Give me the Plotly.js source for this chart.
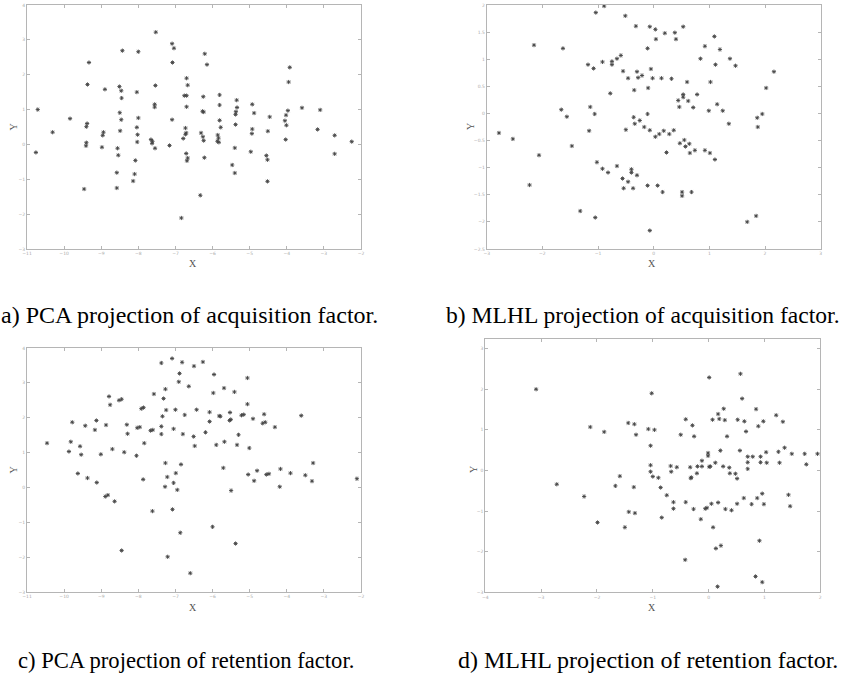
<!DOCTYPE html>
<html>
<head>
<meta charset="utf-8">
<script src="https://cdn.plot.ly/plotly-3.0.1.min.js"></script>
<style>html,body{margin:0;padding:0;background:#fff;}#chart{width:844px;height:673px;}</style>
</head>
<body>
<div id="chart"></div>
<script>
// ---- panel a: PCA projection of acquisition factor ----
const aX = [-10.71,-7.53,-7.09,-7.04,-8.43,-8.00,-6.21,-9.33,-7.08,-6.15,-3.92,-6.70,-3.95,-9.37,-6.67,-7.54,-8.90,-8.51,-8.46,-8.04,-8.45,-6.76,-6.70,-6.25,-5.81,-5.35,-7.56,-7.56,-6.70,-5.81,-4.93,-5.34,-3.59,-3.10,-3.97,-6.27,-6.24,-5.37,-8.50,-4.88,-5.38,-4.02,-4.46,-8.00,-9.84,-7.09,-8.46,-5.81,-4.05,-9.38,-5.38,-4.01,-9.40,-8.04,-6.73,-5.78,-4.93,-3.17,
  -10.31,-8.94,-8.96,-8.49,-8.02,-8.03,-7.66,-7.62,-7.63,-7.55,-9.40,-9.41,-8.98,-8.56,-8.54,-10.76,-7.16,-6.71,-6.73,-6.79,-6.71,-6.67,-6.69,-6.31,-6.26,-6.24,-6.22,-5.86,-5.84,-5.87,-5.83,-5.40,-5.47,-5.40,-4.97,-4.94,-4.55,-4.52,-4.52,-4.51,-4.03,-2.71,-2.71,-2.25,-8.58,-8.58,-9.46,-8.08,-8.10,-8.14,-6.33,-6.84];
const aY = [1.00,3.22,2.89,2.76,2.69,2.66,2.60,2.35,2.35,2.29,2.21,1.90,1.79,1.72,1.70,1.69,1.58,1.66,1.54,1.50,1.33,1.40,1.40,1.37,1.42,1.27,1.15,1.07,1.08,1.13,1.15,1.06,1.05,0.99,0.97,0.95,0.93,0.94,0.91,0.90,0.86,0.84,0.79,0.76,0.74,0.71,0.71,0.69,0.68,0.60,0.57,0.55,0.51,0.49,0.47,0.49,0.44,0.43,
  0.35,0.35,0.26,0.39,0.28,0.07,0.14,0.09,0.03,-0.11,0.05,-0.04,-0.08,-0.11,-0.31,-0.23,-0.03,0.33,0.29,0.17,-0.26,-0.39,-0.47,0.33,0.22,0.11,-0.38,0.27,0.18,0.09,0.06,-0.10,-0.59,-0.82,-0.21,0.31,-0.32,-0.44,-1.06,0.38,0.14,0.26,-0.27,0.08,-0.81,-1.25,-1.28,-0.46,-0.85,-1.05,-1.46,-2.11];

// ---- panel b: MLHL projection of acquisition factor ----
const bX = [-0.89,-1.04,-0.51,-0.32,-0.07,0.03,0.53,0.20,0.38,0.04,0.40,1.09,-2.15,-1.63,-0.11,0.92,1.19,-0.59,-0.66,-0.75,-0.75,-0.92,-1.18,-1.08,0.84,1.37,1.11,1.47,-0.55,-0.30,-0.05,-0.21,-0.46,-0.28,-0.02,0.14,0.32,0.60,1.02,2.16,2.02,-0.35,-0.10,-0.78,0.53,0.53,0.78,0.44,0.62,0.46,0.71,1.14,0.99,1.24,-1.66,-1.14,-1.56,-1.06,-0.11,-0.36,-0.25,-0.34,1.35,1.95,1.86,1.87,-2.78,-2.53,-1.16,-0.50,-0.17,-0.07,0.18,0.10,0.03,0.28,0.36,0.47,0.55,0.57,0.64,0.65,0.74,0.92,1.01,1.10,0.23,-1.47,-2.06,-1.02,-0.92,-0.82,-0.66,-0.40,-0.40,-0.30,-0.56,-0.46,-0.54,-0.37,-0.11,0.07,0.16,0.51,0.51,0.68,-2.23,-1.32,-1.05,-0.07,1.68,1.84];
const bY = [1.98,1.86,1.80,1.61,1.60,1.55,1.60,1.48,1.49,1.37,1.37,1.42,1.26,1.20,1.20,1.24,1.18,1.07,1.01,0.96,0.90,0.95,0.90,0.83,1.01,1.01,0.90,0.88,0.78,0.77,0.82,0.70,0.65,0.66,0.65,0.65,0.64,0.58,0.58,0.77,0.47,0.43,0.47,0.37,0.35,0.30,0.35,0.24,0.23,0.12,0.11,0.17,0.05,0.05,0.07,0.12,-0.06,-0.01,-0.01,-0.07,-0.13,-0.19,-0.19,-0.01,-0.08,-0.25,-0.36,-0.47,-0.32,-0.30,-0.25,-0.31,-0.32,-0.38,-0.43,-0.38,-0.31,-0.55,-0.49,-0.61,-0.56,-0.73,-0.68,-0.68,-0.73,-0.85,-0.72,-0.60,-0.77,-0.90,-1.02,-1.09,-0.97,-1.03,-1.09,-1.14,-1.20,-1.26,-1.38,-1.38,-1.33,-1.33,-1.45,-1.45,-1.52,-1.45,-1.32,-1.80,-1.92,-2.16,-2.00,-1.89];

// ---- panel c: PCA projection of retention factor ----
const cX = [-7.09,-7.38,-6.82,-6.26,-6.50,-6.89,-5.96,-5.06,-6.91,-7.27,-6.64,-5.69,-5.41,-5.98,-7.58,-7.32,-8.79,-8.76,-8.52,-8.45,-7.92,-7.86,-5.06,-7.25,-7.00,-6.43,-6.08,-6.75,-7.35,-5.82,-5.79,-5.53,-5.22,-5.16,-4.61,-3.61,-6.08,-5.54,-5.51,-4.91,-4.65,-4.58,-4.32,-9.78,-9.43,-9.13,-9.17,-8.87,-8.31,-8.29,-8.03,-7.96,-7.67,-7.61,-7.38,-7.38,-7.05,-6.80,-6.51,-6.19,-5.30,
  -10.46,-9.82,-9.87,-9.57,-9.54,-9.01,-8.70,-8.38,-8.05,-7.84,-6.48,-5.90,-5.68,-5.34,-5.01,-7.27,-6.85,-9.63,-9.37,-9.12,-6.99,-7.22,-7.05,-7.28,-6.95,-7.87,-5.71,-5.04,-4.80,-4.88,-4.55,-4.48,-4.17,-3.90,-4.19,-3.50,-3.29,-3.32,-2.11,-5.50,-8.89,-8.82,-8.64,-7.62,-7.08,-6.87,-6.00,-5.38,-8.45,-7.21,-6.60];
const cY = [3.70,3.57,3.59,3.60,3.48,3.27,3.24,3.14,3.03,2.82,2.90,2.85,2.74,2.71,2.68,2.55,2.61,2.37,2.50,2.53,2.26,2.29,2.39,2.22,2.23,2.23,2.16,2.08,2.04,2.05,2.04,2.15,2.07,2.09,2.10,2.06,1.89,1.92,1.95,1.97,1.84,1.87,1.73,1.87,1.77,1.92,1.65,1.79,1.80,1.54,1.71,1.73,1.63,1.65,1.75,1.53,1.68,1.53,1.46,1.58,1.51,
  1.27,1.31,1.03,1.18,0.94,0.95,1.10,1.01,0.91,1.27,1.19,1.22,1.31,1.22,1.13,0.70,0.66,0.40,0.27,0.14,0.41,0.30,0.13,0.02,-0.07,0.23,0.56,0.37,0.48,0.19,0.37,0.39,0.53,0.41,0.02,0.35,0.70,0.18,0.25,-0.09,-0.26,-0.22,-0.40,-0.68,-0.63,-1.30,-1.13,-1.61,-1.81,-1.99,-2.46];

// ---- panel d: MLHL projection of retention factor ----
const dX = [-3.09,0.01,0.57,-1.02,0.60,0.27,0.85,0.17,-0.41,0.07,0.19,0.29,0.52,0.64,1.21,1.33,0.98,-0.29,0.89,-2.12,-1.87,-1.44,-1.33,-1.30,-1.08,-0.97,-0.50,-0.26,0.33,0.67,
  -1.04,0.21,0.56,-0.01,-0.01,0.70,0.79,0.93,1.03,1.25,1.36,1.49,1.72,1.95,0.70,0.93,1.04,1.27,1.75,0.70,-0.12,0.12,0.26,-1.04,-1.04,-1.00,-0.68,-0.67,-0.57,-0.33,-0.20,-0.12,0.01,0.03,0.37,-0.21,0.38,0.48,0.51,-0.31,-0.32,-0.90,-1.59,-1.67,-1.34,-0.86,-0.75,-2.72,-2.23,-0.63,-0.41,-0.63,-0.27,-0.06,-0.03,0.05,0.17,0.30,0.41,0.51,0.63,0.77,0.87,0.96,0.99,1.43,1.46,-1.43,-1.32,-0.84,-0.14,0.08,-1.99,-1.50,0.91,0.22,0.13,-0.42,0.84,0.96,0.16];
const dY = [2.00,2.29,2.38,1.90,1.77,1.52,1.51,1.39,1.26,1.25,1.27,1.24,1.25,1.21,1.36,1.20,1.21,1.11,1.09,1.07,0.95,1.17,1.14,0.88,1.02,1.00,0.88,0.84,0.84,0.96,
  0.61,0.49,0.49,0.43,0.36,0.34,0.34,0.34,0.45,0.46,0.56,0.41,0.41,0.41,0.20,0.20,0.19,0.19,0.15,0.04,0.24,0.19,0.10,0.13,-0.03,-0.15,0.11,-0.03,0.08,0.08,0.10,0.10,0.09,0.10,0.07,-0.07,-0.07,-0.08,-0.20,-0.17,-0.19,-0.18,-0.14,-0.38,-0.41,-0.42,-0.61,-0.34,-0.64,-0.78,-0.78,-0.94,-0.95,-0.94,-0.92,-0.82,-0.79,-0.95,-0.98,-0.82,-0.68,-0.83,-0.68,-0.57,-0.83,-0.60,-0.88,-1.02,-1.05,-1.16,-1.20,-1.40,-1.28,-1.40,-1.73,-1.85,-1.92,-2.20,-2.61,-2.75,-2.86];

// ---- tick values ----
const pcaXTicks = [-11,-10,-9,-8,-7,-6,-5,-4,-3,-2];
const pcaYTicks = [-3,-2,-1,0,1,2,3,4];
const bXTicks = [-3,-2,-1,0,1,2,3];
const bYTicks = [-2.5,-2,-1.5,-1,-0.5,0,0.5,1,1.5,2];
const dXTicks = [-4,-3,-2,-1,0,1,2];
const dYTicks = [-3,-2,-1,0,1,2,3];

const captions = [
  "a) PCA projection of acquisition factor.",
  "b) MLHL projection of acquisition factor.",
  "c) PCA projection of retention factor.",
  "d) MLHL projection of retention factor."
];
const axisX = "X", axisY = "Y";

const W = 844, H = 673;
const px = v => v / W;
const py = v => 1 - v / H;

const marker = {symbol: 'asterisk-open', size: 3.5, line: {color: '#444', width: 0.9}, color: '#444'};
function tr(x, y, xa, ya) {
  return {x: x, y: y, xaxis: xa, yaxis: ya, type: 'scatter', mode: 'markers',
          marker: marker, hoverinfo: 'none', showlegend: false};
}

function ax(domain, range, ticks, anchor) {
  return {
    domain: domain, range: range, anchor: anchor,
    tickmode: 'array', tickvals: ticks,
    ticks: 'inside', ticklen: 3, tickcolor: '#b5b5b5', tickwidth: 1,
    showline: true, linecolor: '#b5b5b5', linewidth: 1, mirror: 'ticks',
    showgrid: false, zeroline: false,
    tickfont: {family: 'DejaVu Sans', size: 4.5, color: '#aaa'},
    fixedrange: true
  };
}

const data = [
  tr(aX, aY, 'x', 'y'),
  tr(bX, bY, 'x2', 'y2'),
  tr(cX, cY, 'x3', 'y3'),
  tr(dX, dY, 'x4', 'y4')
];

function label(text, x, y, angle) {
  return {text: text, x: px(x), y: py(y), xref: 'paper', yref: 'paper', xanchor: 'center', yanchor: 'middle',
          showarrow: false, textangle: angle, font: {family: 'Liberation Serif', size: 10, color: '#555'}};
}
function caption(text, x, y, size) {
  return {text: text, x: px(x), y: py(y), xref: 'paper', yref: 'paper', xanchor: 'left', yanchor: 'middle',
          showarrow: false, font: {family: 'Liberation Serif', size: size, color: '#000'}};
}

const layout = {
  width: W, height: H,
  margin: {l: 0, r: 0, t: 0, b: 0},
  paper_bgcolor: '#fff', plot_bgcolor: '#fff',
  showlegend: false,
  xaxis:  ax([px(27), px(361)], [-11, -2], pcaXTicks, 'y'),
  yaxis:  ax([py(249), py(5)], [-3, 4], pcaYTicks, 'x'),
  xaxis2: ax([px(486.7), px(820.7)], [-3, 3], bXTicks, 'y2'),
  yaxis2: ax([py(249), py(5)], [-2.5, 2], bYTicks, 'x2'),
  xaxis3: ax([px(27), px(361)], [-11, -2], pcaXTicks, 'y3'),
  yaxis3: ax([py(592), py(348)], [-3, 4], pcaYTicks, 'x3'),
  xaxis4: ax([px(485.3), px(820.3)], [-4, 2], dXTicks, 'y4'),
  yaxis4: ax([py(592.3), py(339.3)], [-3, 3.23], dYTicks, 'x4'),
  annotations: [
    label(axisX, 193, 264, 0), label(axisY, 12.5, 127, -90),
    label(axisX, 652, 264, 0), label(axisY, 470, 127, -90),
    label(axisX, 193, 607, 0), label(axisY, 12.5, 470, -90),
    label(axisX, 652, 607, 0), label(axisY, 473, 470, -90),
    caption(captions[0], -1, 315, 24),
    caption(captions[1], 444, 315, 23.6),
    caption(captions[2], 16, 660, 22.6),
    caption(captions[3], 456, 660, 24)
  ]
};

Plotly.newPlot('chart', data, layout, {staticPlot: true, displayModeBar: false});
</script>
</body>
</html>
